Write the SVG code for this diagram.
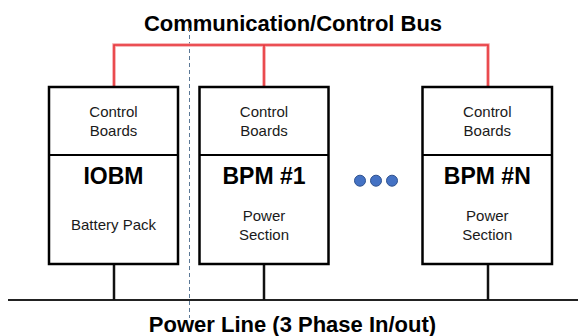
<svg xmlns="http://www.w3.org/2000/svg" width="578" height="336" viewBox="0 0 578 336">
<style>
.box{fill:#fff;stroke:#000;stroke-width:2.5}
.div{stroke:#000;stroke-width:2}
.sm{font-family:"Liberation Sans",Arial,sans-serif;font-size:15px;fill:#1a1a1a;text-anchor:middle}
.hd{font-family:"Liberation Sans",Arial,sans-serif;font-size:23px;font-weight:bold;fill:#000;text-anchor:middle}
.ttl{font-family:"Liberation Sans",Arial,sans-serif;font-size:22px;font-weight:bold;fill:#000;text-anchor:middle}
.halo{fill:none;stroke:#f5a3a5;stroke-width:3.5}
.red{fill:none;stroke:#e8353a;stroke-width:1.6}
.pw{stroke:#111;stroke-width:2.5}
.dot{fill:#4472c4;stroke:#2f528f;stroke-width:1}
</style>
<rect width="578" height="336" fill="#fff"/>
<text class="ttl" x="293" y="31">Communication/Control Bus</text>
<line x1="189.5" y1="28" x2="189.5" y2="318" stroke="#5b7896" stroke-width="1" stroke-dasharray="4,3"/>
<g id="connectors">
<path class="halo" d="M114 87V45H488V87M264 45V87"/>
<path class="red" d="M114 87V45H488V87M264 45V87"/>
<line x1="8" y1="300" x2="578" y2="300" stroke="#222" stroke-width="2"/>
<line class="pw" x1="114" y1="264" x2="114" y2="300"/>
<line class="pw" x1="264" y1="264" x2="264" y2="300"/>
<line class="pw" x1="488" y1="264" x2="488" y2="300"/>
</g>
<g id="iobm">
<rect class="box" x="49" y="87" width="129" height="177"/>
<line class="div" x1="49" y1="155" x2="178" y2="155"/>
<text class="sm" x="113.5" y="116.5">Control</text>
<text class="sm" x="113.5" y="136">Boards</text>
<text class="hd" x="113.5" y="184">IOBM</text>
<text class="sm" x="113.5" y="230">Battery Pack</text>
</g>
<g id="bpm1">
<rect class="box" x="199.5" y="87" width="129" height="177"/>
<line class="div" x1="199.5" y1="155" x2="328.5" y2="155"/>
<text class="sm" x="264" y="116.5">Control</text>
<text class="sm" x="264" y="136">Boards</text>
<text class="hd" x="264" y="184">BPM #1</text>
<text class="sm" x="264" y="220.5">Power</text>
<text class="sm" x="264" y="240">Section</text>
</g>
<g id="dots">
<circle class="dot" cx="360" cy="180.7" r="5.5"/>
<circle class="dot" cx="376" cy="180.7" r="5.5"/>
<circle class="dot" cx="392" cy="180.7" r="5.5"/>
</g>
<g id="bpmn">
<rect class="box" x="422.5" y="87" width="129.5" height="177"/>
<line class="div" x1="422.5" y1="155" x2="552" y2="155"/>
<text class="sm" x="487.3" y="116.5">Control</text>
<text class="sm" x="487.3" y="136">Boards</text>
<text class="hd" x="487.3" y="184">BPM #N</text>
<text class="sm" x="487.3" y="220.5">Power</text>
<text class="sm" x="487.3" y="240">Section</text>
</g>
<text class="ttl" x="292.5" y="332">Power Line (3 Phase In/out)</text>
</svg>
